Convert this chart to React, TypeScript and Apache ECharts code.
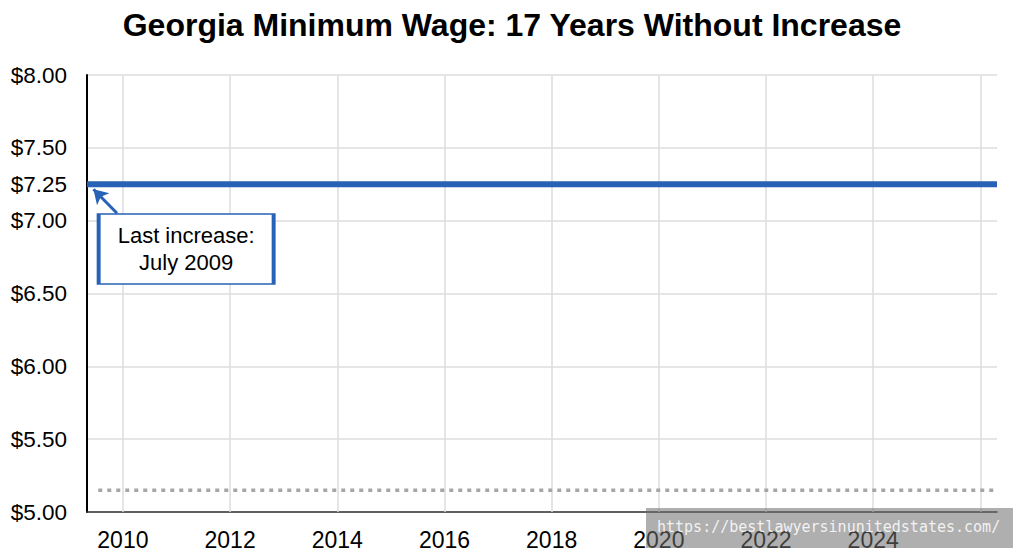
import React, { useEffect, useRef } from "react";
import * as echarts from "echarts";

const TITLE = "Georgia Minimum Wage: 17 Years Without Increase";
const X_MIN = 2009.33;
const X_MAX = 2026.31;
const Y_MIN = 5;
const Y_MAX = 8;
const gridYears = [2010, 2012, 2014, 2016, 2018, 2020, 2022, 2024, 2026];
const labeledYears = [2010, 2012, 2014, 2016, 2018, 2020, 2022, 2024];
const extraYLabels = [7.25];
const federalYears = [2009.33, 2026.31];
const federalWage = [7.25, 7.25];
const stateYears = [2009.54, 2026.25];
const stateWage = [5.15, 5.15];
const ANNOT_TEXT = "Last increase:\nJuly 2009";
const annotBox = [2011.18, 6.806];
const arrowFrom = [2009.89, 7.051];
const arrowTo = [2009.45, 7.216];
const WATERMARK = "https://bestlawyersinunitedstates.com/";

const FONT = "'Liberation Sans', Arial, Helvetica, sans-serif";
const BLUE = "#2862b6";

export default function App() {
  const ref = useRef<HTMLDivElement>(null);
  useEffect(() => {
    if (!ref.current) return;
    const chart = echarts.init(ref.current, undefined, { renderer: "svg" });
    chart.setOption({
      animation: false,
      backgroundColor: "#ffffff",
      textStyle: { fontFamily: FONT },
      title: {
        text: TITLE,
        left: "center",
        top: 9,
        padding: 0,
        textStyle: { fontSize: 32, fontWeight: "bold", color: "#000", fontFamily: FONT },
      },
      grid: { left: 87, right: 27, top: 75, bottom: 47, containLabel: false },
      xAxis: {
        type: "value",
        min: X_MIN,
        max: X_MAX,
        minInterval: 2,
        maxInterval: 2,
        axisLine: { show: true, onZero: false, lineStyle: { color: "#333", width: 1.5 } },
        axisTick: { show: false },
        splitLine: { show: false },
        axisLabel: {
          fontSize: 23,
          color: "#000",
          margin: 16,
          fontFamily: FONT,
          showMinLabel: true,
          showMaxLabel: true,
          formatter: (v: number) => (labeledYears.includes(v) ? String(v) : ""),
        },
      },
      yAxis: [
        {
          type: "value",
          position: "left",
          min: Y_MIN,
          max: Y_MAX,
          interval: 0.5,
          axisLine: { show: true, onZero: false, lineStyle: { color: "#000", width: 2 } },
          axisTick: { show: false },
          splitLine: { show: true, lineStyle: { color: "#dcdcdc", width: 1.5 } },
          axisLabel: {
            fontSize: 22.5,
            color: "#000",
            margin: 20,
            fontFamily: FONT,
            formatter: (v: number) => "$" + v.toFixed(2),
          },
        },
        {
          type: "value",
          position: "left",
          min: Y_MIN,
          max: Y_MAX,
          interval: 0.25,
          axisLine: { show: false },
          axisTick: { show: false },
          splitLine: { show: false },
          axisLabel: {
            fontSize: 22.5,
            color: "#000",
            margin: 20,
            fontFamily: FONT,
            formatter: (v: number) =>
              extraYLabels.some((e) => Math.abs(e - v) < 1e-6) ? "$" + v.toFixed(2) : "",
          },
        },
      ],
      series: [
        {
          type: "line",
          name: "Georgia state minimum",
          yAxisIndex: 0,
          z: 2,
          data: stateYears.map((x, i) => [x, stateWage[i]]),
          showSymbol: false,
          symbol: "none",
          silent: true,
          lineStyle: { color: "#a6a6a6", width: 3.5, type: [4, 5], cap: "butt" },
          markLine: {
            silent: true,
            symbol: ["none", "none"],
            label: { show: false },
            lineStyle: { color: "#dcdcdc", width: 1.5, type: "solid" },
            data: gridYears.map((y) => ({ xAxis: y })),
            z: 1,
          },
        },
        {
          type: "line",
          name: "Minimum wage",
          yAxisIndex: 0,
          z: 5,
          data: federalYears.map((x, i) => [x, federalWage[i]]),
          showSymbol: false,
          symbol: "none",
          silent: true,
          lineStyle: { color: BLUE, width: 6, cap: "butt" },
          markLine: {
            silent: true,
            symbol: ["none", "arrow"],
            symbolSize: [13, 14],
            label: { show: false },
            lineStyle: { color: BLUE, width: 3, type: "solid" },
            data: [[{ coord: arrowFrom }, { coord: arrowTo }]],
          },
          markPoint: {
            silent: true,
            data: [
              {
                coord: annotBox,
                symbol: "rect",
                symbolSize: [175, 70],
                itemStyle: { color: "#ffffff", borderColor: BLUE, borderWidth: 2.5 },
                label: {
                  show: true,
                  position: "inside",
                  formatter: ANNOT_TEXT,
                  fontSize: 22,
                  lineHeight: 27,
                  color: "#000",
                  align: "center",
                  fontFamily: FONT,
                },
              },
            ],
          },
        },
      ],
      graphic: [
        {
          type: "rect",
          left: 646,
          top: 508,
          z: 100,
          shape: { width: 367, height: 40 },
          style: { fill: "rgba(110,110,110,0.55)" },
        },
        {
          type: "text",
          left: 657,
          top: 519,
          z: 101,
          style: {
            text: WATERMARK,
            fill: "rgba(255,255,255,0.85)",
            font: "15px 'DejaVu Sans Mono', 'Liberation Mono', monospace",
          },
        },
      ],
    });
    return () => chart.dispose();
  }, []);
  return (
    <div
      ref={ref}
      style={{ position: "fixed", left: 0, top: 0, width: 1024, height: 559, background: "#fff" }}
    />
  );
}
